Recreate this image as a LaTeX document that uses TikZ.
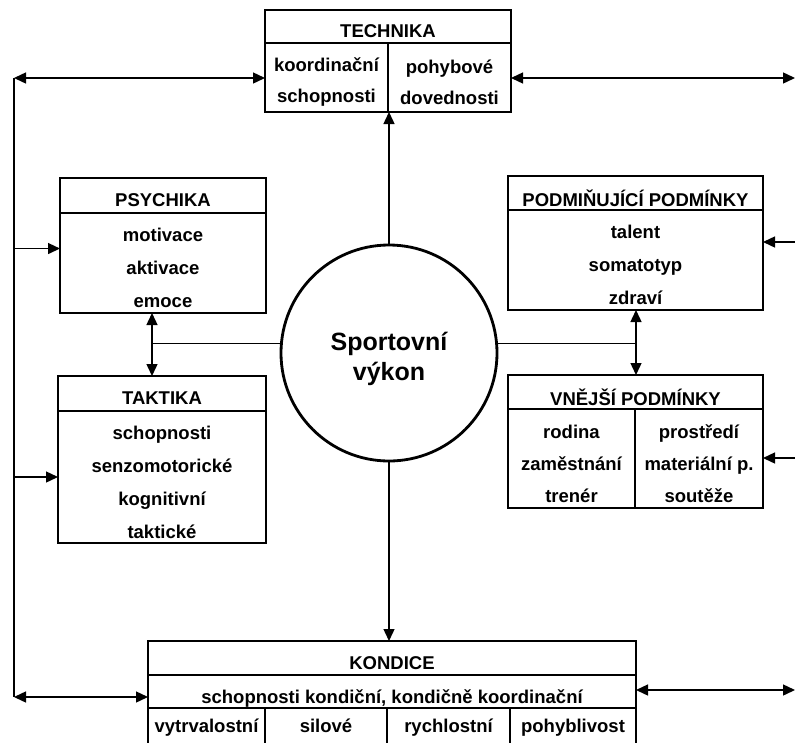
\documentclass[tikz,border=0pt]{standalone}
\usepackage{fontspec}
\setmainfont{Liberation Sans}
\usetikzlibrary{arrows.meta}

\begin{document}
\begin{tikzpicture}[x=1pt, y=-1pt, >={Triangle[length=12pt,width=11pt]},
  part/.style={draw, line width=2.6pt, outer sep=0pt, inner sep=0pt, anchor=north west},
  txt/.style={font=\fontsize{18.5}{#1}\selectfont\bfseries, align=center, yshift=-5pt},
  txt/.default=33,
  cell/.style={txt, text height=13.7pt, text depth=4pt, yshift=9pt},
  link/.style={line width=1.4pt}]
  \clip (0,0) rectangle (795,742);

  \node[part, minimum width=246pt, minimum height=33pt] (techtitle) at (265,10) {};
  \node[part, minimum width=123pt, minimum height=69pt] (techL) at (techtitle.south west) {};
  \node[part, minimum width=123pt, minimum height=69pt] (techR) at (techL.north east) {};
  \node[txt] (techhead) at (techtitle.center) {TECHNIKA};
  \node[txt=31] (techLtext) at (techL.center) {koordinační\\schopnosti};
  \node[txt=31] (techRtext) at (techR.center) {pohybové\\dovednosti};

  \node[part, minimum width=206pt, minimum height=35pt] (psytitle) at (60,178) {};
  \node[part, minimum width=206pt, minimum height=100pt] (psybody) at (psytitle.south west) {};
  \node[txt] (psyhead) at (psytitle.center) {PSYCHIKA};
  \node[txt] (psytext) at (psybody.center) {motivace\\aktivace\\emoce};

  \node[part, minimum width=208pt, minimum height=35pt] (taktitle) at (58,376) {};
  \node[part, minimum width=208pt, minimum height=132pt] (takbody) at (taktitle.south west) {};
  \node[txt] (takhead) at (taktitle.center) {TAKTIKA};
  \node[txt] (taktext) at (takbody.center) {schopnosti\\senzomotorické\\kognitivní\\taktické};

  \node[part, minimum width=255pt, minimum height=34pt] (podtitle) at (508,176) {};
  \node[part, minimum width=255pt, minimum height=100pt] (podbody) at (podtitle.south west) {};
  \node[txt] (podhead) at (podtitle.center) {PODMIŇUJÍCÍ PODMÍNKY};
  \node[txt] (podtext) at (podbody.center) {talent\\somatotyp\\zdraví};

  \node[part, minimum width=255pt, minimum height=34pt] (vnejtitle) at (508,375) {};
  \node[part, minimum width=127pt, minimum height=99pt] (vnejL) at (vnejtitle.south west) {};
  \node[part, minimum width=128pt, minimum height=99pt] (vnejR) at (vnejL.north east) {};
  \node[txt] (vnejhead) at (vnejtitle.center) {VNĚJŠÍ PODMÍNKY};
  \node[txt=32] (vnejLtext) at (vnejL.center) {rodina\\zaměstnání\\trenér};
  \node[txt=32] (vnejRtext) at (vnejR.center) {prostředí\\materiální p.\\soutěže};

  \node[part, minimum width=488pt, minimum height=34pt] (kondtitle) at (148,641) {};
  \node[part, minimum width=488pt, minimum height=33pt] (kondrow) at (kondtitle.south west) {};
  \node[part, minimum width=117pt, minimum height=48pt] (kondA) at (kondrow.south west) {};
  \node[part, minimum width=122pt, minimum height=48pt] (kondB) at (kondA.north east) {};
  \node[part, minimum width=123pt, minimum height=48pt] (kondC) at (kondB.north east) {};
  \node[part, minimum width=126pt, minimum height=48pt] (kondD) at (kondC.north east) {};
  \node[txt] (kondhead) at (kondtitle.center) {KONDICE};
  \node[txt, yshift=-2pt] (kondrowtext) at (kondrow.center) {schopnosti kondiční, kondičně koordinační};
  \node[cell] (kondAtext) at (kondA.center) {vytrvalostní};
  \node[cell] (kondBtext) at (kondB.center) {silové};
  \node[cell] (kondCtext) at (kondC.center) {rychlostní};
  \node[cell] (kondDtext) at (kondD.center) {pohyblivost};

  \node[draw, circle, line width=2.8pt, minimum size=216pt, inner sep=0pt] (vykon) at (389,353) {};
  \node[font=\fontsize{25}{30}\selectfont\bfseries, align=center, yshift=-6pt] (vykontext) at (vykon.center) {Sportovní\\výkon};

  \coordinate (lt) at (14,78);
  \coordinate (lb) at (14,697);
  \coordinate (jl) at (152,0);
  \coordinate (jr) at (636,0);
  \coordinate (rt) at (795,78);
  \coordinate (rp) at (795,242);
  \coordinate (rv) at (795,458);
  \coordinate (rk) at (795,690);

  \draw[link] (lt) -- (lb);
  \draw[link, <->] (lt) -- (lt -| techL.west);
  \draw[link, ->] (lt |- psybody.172) -- (psybody.172);
  \draw[link, ->] (lt |- takbody.west) -- (takbody.west);
  \draw[link, <->] (lb) -- (lb -| kondrow.west);
  \draw[link, <->] (rt -| techR.east) -- (rt);
  \draw[link, ->] (rp) -- (rp -| podbody.east);
  \draw[link, ->] (rv) -- (rv -| vnejR.east);
  \draw[link, <->] (rk -| kondrow.east) -- (rk);
  \draw[link, ->] (vykon.north) -- (vykon.north |- techL.south);
  \draw[link, ->] (vykon.south) -- (vykon.south |- kondtitle.north);
  \draw[link] (vykon.175) -- (vykon.175 -| jl);
  \draw[link, <->] (jl |- psybody.south) -- (jl |- taktitle.north);
  \draw[link] (vykon.5) -- (vykon.5 -| jr);
  \draw[link, <->] (jr |- podbody.south) -- (jr |- vnejtitle.north);
\end{tikzpicture}
\end{document}
